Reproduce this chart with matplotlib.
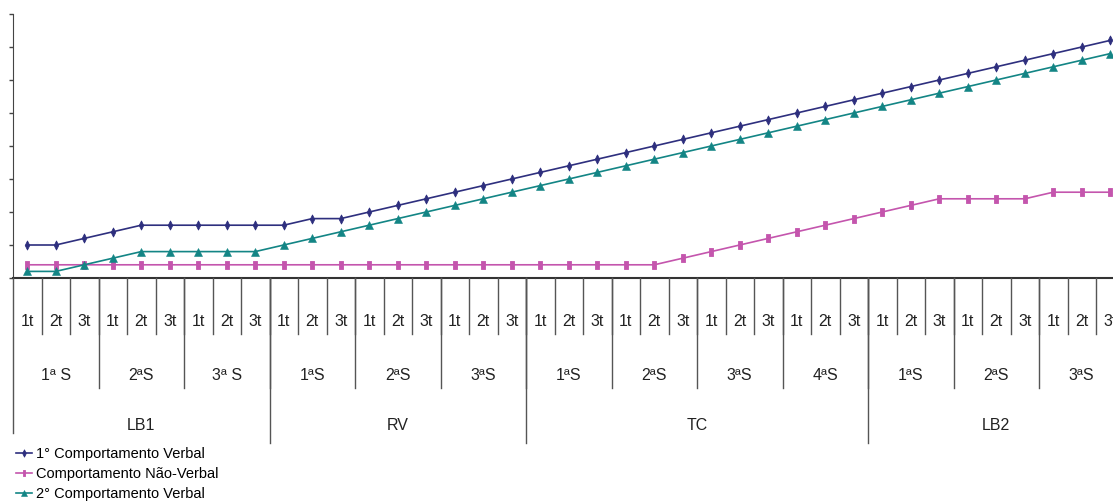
import matplotlib
matplotlib.use('Agg')
import matplotlib.pyplot as plt
import matplotlib.transforms as mtransforms
from matplotlib.lines import Line2D
from matplotlib.path import Path

# font: narrow sans if present
plt.rcParams['font.family'] = ['Liberation Sans Narrow', 'Liberation Sans', 'DejaVu Sans']

# data
trial_labels = ['1t', '2t', '3t'] * 13
session_labels = ['1ª S', '2ªS', '3ª S',
                  '1ªS', '2ªS', '3ªS',
                  '1ªS', '2ªS', '3ªS', '4ªS',
                  '1ªS', '2ªS', '3ªS']
phase_labels = ['LB1', 'RV', 'TC', 'LB2']
phase_sessions = [3, 3, 4, 3]

verbal_1 = [5, 5, 6, 7, 8, 8, 8, 8, 8, 8, 9, 9, 10, 11,
            12, 13, 14, 15, 16, 17, 18, 19, 20, 21,
            22, 23, 24, 25, 26, 27, 28, 29, 30, 31, 32, 33, 34, 35, 36]
nao_verbal = [2] * 23 + [3, 4, 5, 6, 7, 8, 9, 10, 11, 12,
                         12, 12, 12, 13, 13, 13]
verbal_2 = [1, 1, 2, 3, 4, 4, 4, 4, 4, 5, 6, 7, 8, 9,
            10, 11, 12, 13, 14, 15, 16, 17, 18, 19,
            20, 21, 22, 23, 24, 25, 26, 27, 28, 29, 30, 31, 32, 33, 34]

W, H = 1113, 503
fig = plt.figure(figsize=(W / 100, H / 100), dpi=100)

n = len(verbal_1)
step = 28.5
x0_px, top_px, axis_px = 13, 14, 278
ax = fig.add_axes([x0_px / W, 1 - axis_px / H, n * step / W, (axis_px - top_px) / H])

x = list(range(n))
c_navy = '#2e2f7e'
c_mag = '#c455ad'
c_teal = '#138585'

bar_marker = Path([(-0.4, -1), (0.4, -1), (0.4, 1), (-0.4, 1), (-0.4, -1)],
                  [Path.MOVETO, Path.LINETO, Path.LINETO, Path.LINETO, Path.CLOSEPOLY])
diamond_marker = Path([(0, -1), (0.5, 0), (0, 1), (-0.5, 0), (0, -1)],
                      [Path.MOVETO, Path.LINETO, Path.LINETO, Path.LINETO, Path.CLOSEPOLY])

ax.plot(x, verbal_1, color=c_navy, lw=1.2, marker=diamond_marker, ms=6.5, mew=0.6, clip_on=False,
        label='1° Comportamento Verbal')
ax.plot(x, nao_verbal, color=c_mag, lw=1.2, marker=bar_marker, ms=6, mew=0.6, clip_on=False,
        label='Comportamento Não-Verbal')
ax.plot(x, verbal_2, color=c_teal, lw=1.2, marker='^', ms=5.5, mew=0.4, clip_on=False,
        label='2° Comportamento Verbal')

ax.set_xlim(-0.5, n - 0.5)
ax.set_ylim(0, 40)
ax.set_yticks(range(0, 41, 5))
ax.set_yticklabels([])
ax.set_xticks([])
ax.tick_params(axis='y', direction='out', length=3, width=1, color='#444444')
for s in ['top', 'right']:
    ax.spines[s].set_visible(False)
ax.spines['left'].set_color('#444444')
ax.spines['bottom'].set_color('#333333')
ax.spines['bottom'].set_linewidth(1.5)

# category hierarchy under the axis
trans = mtransforms.blended_transform_factory(ax.transData, fig.transFigure)


def fy(px):
    return 1 - px / H


def vline(xd, y_bottom_px, color='#555555'):
    fig.add_artist(Line2D([xd, xd], [fy(axis_px), fy(y_bottom_px)], transform=trans,
                          color=color, lw=1, clip_on=False))


txt = dict(ha='center', va='center', fontsize=11.5, color='#222222', transform=trans)

for i, lab in enumerate(trial_labels):
    fig.text(i, fy(321), lab, **txt)
    if i > 0:
        vline(i - 0.5, 334)

pos = 0
for lab in session_labels:
    fig.text(pos + 1, fy(375), lab, **txt)
    if pos > 0:
        vline(pos - 0.5, 388)
    pos += 3

pos = 0
for lab, ns in zip(phase_labels, phase_sessions):
    width = ns * 3
    fig.text(pos + (width - 1) / 2, fy(426), lab, **txt)
    vline(pos - 0.5, 433 if pos == 0 else 443)
    pos += width

fig.legend(loc='upper left', bbox_to_anchor=(16 / W, fy(447)), frameon=False,
           fontsize=10.5, handlelength=1.1, handletextpad=0.3, labelspacing=0.4,
           borderpad=0, borderaxespad=0, markerscale=0.8)

fig.savefig('out.png', dpi=100)
